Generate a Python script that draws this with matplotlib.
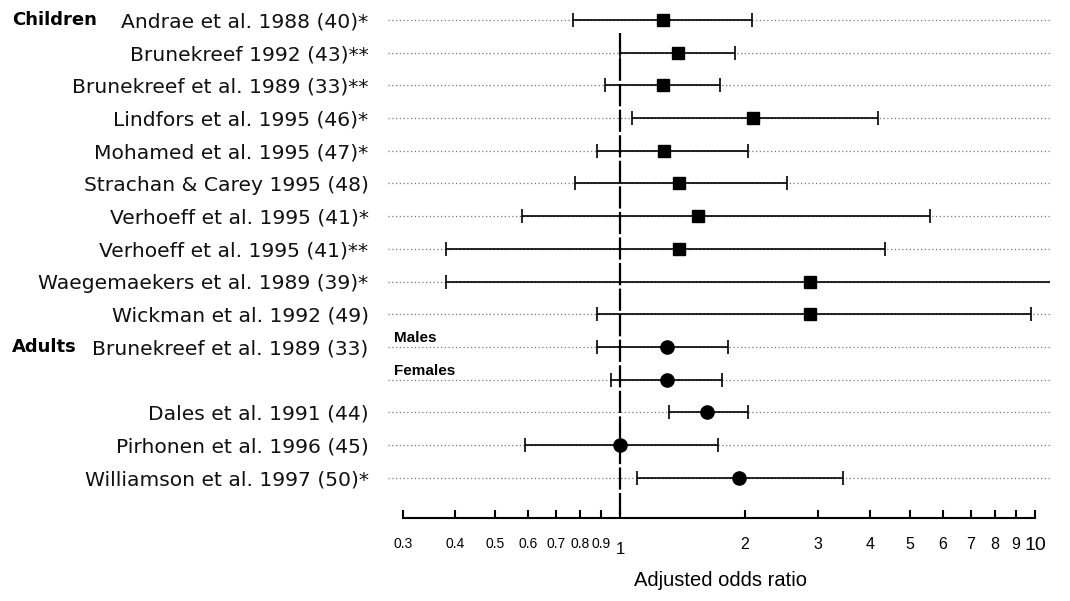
import numpy as np
import matplotlib.pyplot as plt
import matplotlib.transforms as mtransforms

# study labels, odds ratios and confidence limits
studies = ['Andrae et al. 1988 (40)*', 'Brunekreef 1992 (43)**', 'Brunekreef et al. 1989 (33)**',
           'Lindfors et al. 1995 (46)*', 'Mohamed et al. 1995 (47)*', 'Strachan & Carey 1995 (48)',
           'Verhoeff et al. 1995 (41)*', 'Verhoeff et al. 1995 (41)**', 'Waegemaekers et al. 1989 (39)*',
           'Wickman et al. 1992 (49)', 'Brunekreef et al. 1989 (33)', '',
           'Dales et al. 1991 (44)', 'Pirhonen et al. 1996 (45)', 'Williamson et al. 1997 (50)*']
odds = [1.27, 1.38, 1.27, 2.09, 1.28, 1.39, 1.54, 1.39, 2.87, 2.87, 1.30, 1.30, 1.62, 1.00, 1.94]
lower = [0.77, 1.00, 0.92, 1.07, 0.88, 0.78, 0.58, 0.38, 0.38, 0.88, 0.88, 0.95, 1.31, 0.59, 1.10]
upper = [2.08, 1.89, 1.74, 4.19, 2.03, 2.53, 5.58, 4.35, 12.0, 9.8, 1.82, 1.76, 2.03, 1.72, 3.44]
group = ['child'] * 10 + ['adult'] * 5
tick_vals = [0.3, 0.4, 0.5, 0.6, 0.7, 0.8, 0.9, 1, 2, 3, 4, 5, 6, 7, 8, 9, 10]
tick_txt = ['0.3', '0.4', '0.5', '0.6', '0.7', '0.8', '0.9', '1', '2', '3', '4', '5', '6', '7', '8', '9', '10']

plt.rcParams['font.family'] = ['Liberation Sans', 'DejaVu Sans']
label_font = ['DejaVu Sans']

fig = plt.figure(figsize=(10.7, 6.01), dpi=100)
ax = fig.add_axes([388 / 1070, 83 / 601, 662 / 1070, 518 / 601])

n = len(studies)
y = np.arange(n)
ax.set_xscale('log')
ax.set_xlim(0.276, 10.87)
ax.set_ylim(15.23, -0.61)

# dotted guide lines
ax.hlines(y, 0.276, 10.87, colors='#777777', linestyles=(0, (1, 2)), lw=0.9, zorder=1)

# reference line at 1
ax.plot([1, 1], [0.4, 15.23], color='black', lw=1.6, ls=(0, (10, 1.5)), zorder=2, clip_on=False)

odds = np.array(odds)
lower = np.array(lower)
upper = np.array(upper)
for i in range(n):
    mk = 's' if group[i] == 'child' else 'o'
    ms = 9 if mk == 's' else 9.5
    ax.errorbar(odds[i], y[i], xerr=[[odds[i] - lower[i]], [upper[i] - odds[i]]],
                fmt=mk, color='black', ms=ms, elinewidth=1.2, capsize=5, capthick=1.2, zorder=3)

ax.set_yticks(y)
ax.set_yticklabels(studies, fontsize=14.6, family=label_font, color='#111111')
ax.tick_params(axis='y', length=0, pad=14)

ax.set_xticks(tick_vals)
ax.set_xticks([], minor=True)
ax.set_xticklabels(tick_txt)
ax.tick_params(axis='x', direction='in', length=6, width=1.5, pad=14)
for lab, v in zip(ax.get_xticklabels(), tick_vals):
    if v == 10:
        lab.set_fontsize(14)
    elif v == 1:
        lab.set_fontsize(12)
        lab.set_y(-0.008)
    elif v >= 2:
        lab.set_fontsize(11.5)
    else:
        lab.set_fontsize(10)

for s in ['top', 'right', 'left']:
    ax.spines[s].set_visible(False)
ax.spines['bottom'].set_bounds(0.3, 10)
ax.spines['bottom'].set_linewidth(1.5)

# group headings
tr = mtransforms.blended_transform_factory(fig.transFigure, ax.transData)
ax.text(12 / 1070, 0, 'Children', transform=tr, fontsize=13, fontweight='bold', va='center',
        family=label_font)
ax.text(12 / 1070, 10, 'Adults', transform=tr, fontsize=13, fontweight='bold', va='center',
        family=label_font)
ax.text(0.285, 9.72, 'Males', fontsize=11, fontweight='bold', va='center')
ax.text(0.285, 10.72, 'Females', fontsize=11, fontweight='bold', va='center')

fig.text(720 / 1070, 1 - 580 / 601, 'Adjusted odds ratio', fontsize=14.5, ha='center', va='center')

fig.savefig('out.png', dpi=100)
